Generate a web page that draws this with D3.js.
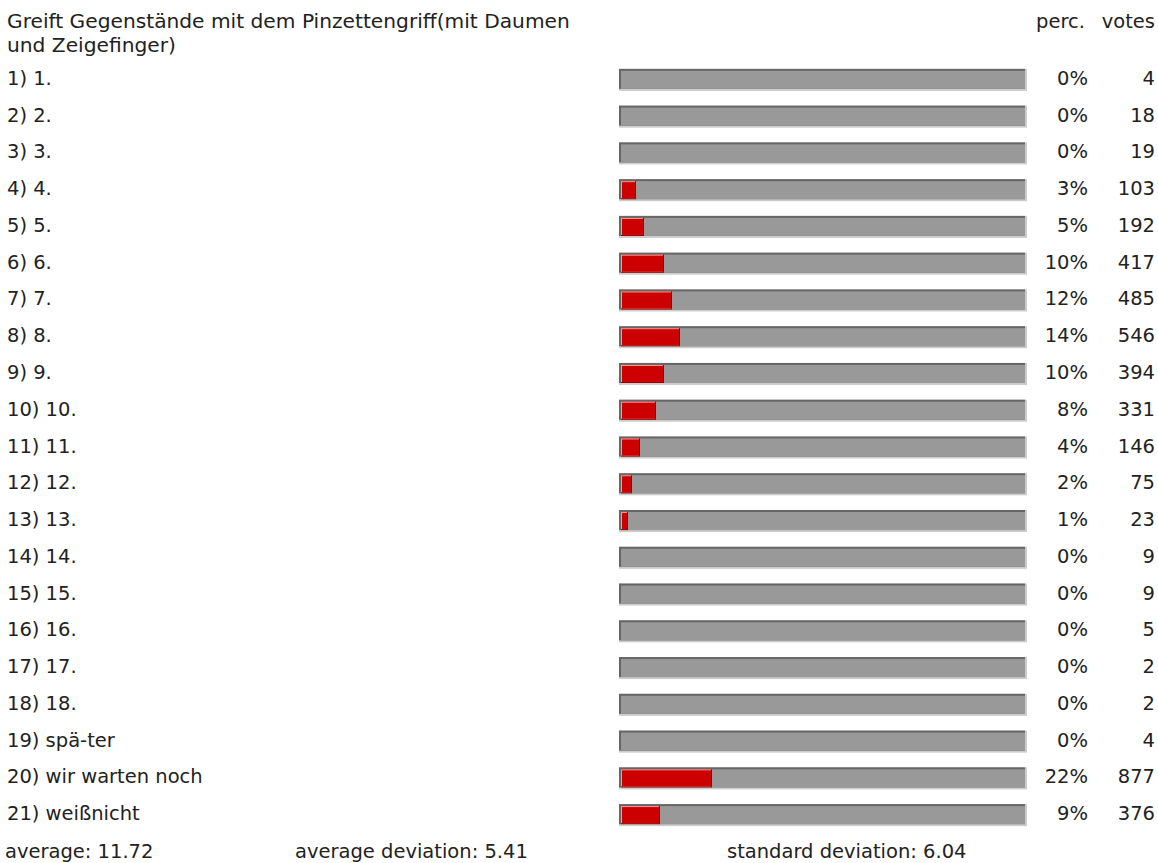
<!DOCTYPE html>
<html>
<head>
    <meta charset="UTF-8">
    <title>Pinzettengriff</title>
    <script src="https://d3js.org/d3.v7.min.js"></script>
    <style>
        body {
            background-color: #ffffff;
            margin: 0;
            padding: 0;
        }
        text {
            font-family: 'DejaVu Sans', Verdana, sans-serif;
            font-size: 19.5px;
            fill: #222;
        }
        .title {
            font-size: 20.2px;
        }
    </style>
</head>
<body>
    <svg width="1158" height="863"></svg>

    <script>
        const titleLines = ["Greift Gegenstände mit dem Pinzettengriff(mit Daumen", "und Zeigefinger)"];
        const labels = ["1) 1.", "2) 2.", "3) 3.", "4) 4.", "5) 5.", "6) 6.", "7) 7.", "8) 8.", "9) 9.",
            "10) 10.", "11) 11.", "12) 12.", "13) 13.", "14) 14.", "15) 15.", "16) 16.", "17) 17.",
            "18) 18.", "19) spä-ter", "20) wir warten noch", "21) weißnicht"];
        const percents = [0, 0, 0, 3, 5, 10, 12, 14, 10, 8, 4, 2, 1, 0, 0, 0, 0, 0, 0, 22, 9];
        const votes = [4, 18, 19, 103, 192, 417, 485, 546, 394, 331, 146, 75, 23, 9, 9, 5, 2, 2, 4, 877, 376];
        const stats = [["average: 11.72", 5], ["average deviation: 5.41", 295], ["standard deviation: 6.04", 727]];

        let svg = d3.select("svg");

        let y = d3.scaleBand()
            .domain(labels)
            .range([61.5, 833.5])
            .paddingInner(0.4)
            .paddingOuter(0.2);

        let x = d3.scaleLinear().domain([0, 100]).range([0, 400]);

        const barX = 619, barW = 408;

        // title + headers
        svg.selectAll("text.title")
            .data(titleLines)
            .enter()
            .append("text")
            .attr("class", "title")
            .attr("x", 7)
            .attr("y", (d, i) => 28 + i * 24)
            .text(d => d);

        svg.append("text").attr("x", 1085).attr("y", 28).attr("text-anchor", "end").text("perc.");
        svg.append("text").attr("x", 1155).attr("y", 28).attr("text-anchor", "end").text("votes");

        let rows = svg.selectAll("g.row")
            .data(labels)
            .enter()
            .append("g")
            .attr("class", "row")
            .attr("transform", d => "translate(0," + y(d) + ")");

        const h = y.bandwidth();

        rows.append("text")
            .attr("x", 7)
            .attr("y", h / 2 + 5)
            .text(d => d);

        // grey track with bevel
        rows.append("rect").attr("x", barX).attr("y", 0).attr("width", barW).attr("height", h).attr("fill", "#cccccc");
        rows.append("rect").attr("x", barX).attr("y", 0).attr("width", barW - 2).attr("height", h - 2).attr("fill", "#666666");
        rows.append("rect").attr("x", barX + 2).attr("y", 2).attr("width", barW - 4).attr("height", h - 4).attr("fill", "#999999");

        // red value bar
        let red = rows.filter((d, i) => percents[i] > 0);
        red.append("rect")
            .attr("x", barX + 2).attr("y", 2)
            .attr("width", d => x(percents[labels.indexOf(d)]) + 3)
            .attr("height", h - 4)
            .attr("fill", "#990000");
        red.append("rect")
            .attr("x", barX + 2).attr("y", 2)
            .attr("width", d => x(percents[labels.indexOf(d)]) + 2)
            .attr("height", h - 5)
            .attr("fill", "#ff9999");
        red.append("rect")
            .attr("x", barX + 3).attr("y", 3)
            .attr("width", d => x(percents[labels.indexOf(d)]) + 1)
            .attr("height", h - 6)
            .attr("fill", "#cc0000");

        rows.append("text")
            .attr("x", 1088)
            .attr("y", h / 2 + 5)
            .attr("text-anchor", "end")
            .text((d, i) => percents[i] + "%");

        rows.append("text")
            .attr("x", 1155)
            .attr("y", h / 2 + 5)
            .attr("text-anchor", "end")
            .text((d, i) => votes[i]);

        svg.selectAll("text.stat")
            .data(stats)
            .enter()
            .append("text")
            .attr("class", "stat")
            .attr("x", d => d[1])
            .attr("y", 858)
            .text(d => d[0]);
    </script>
</body>
</html>
